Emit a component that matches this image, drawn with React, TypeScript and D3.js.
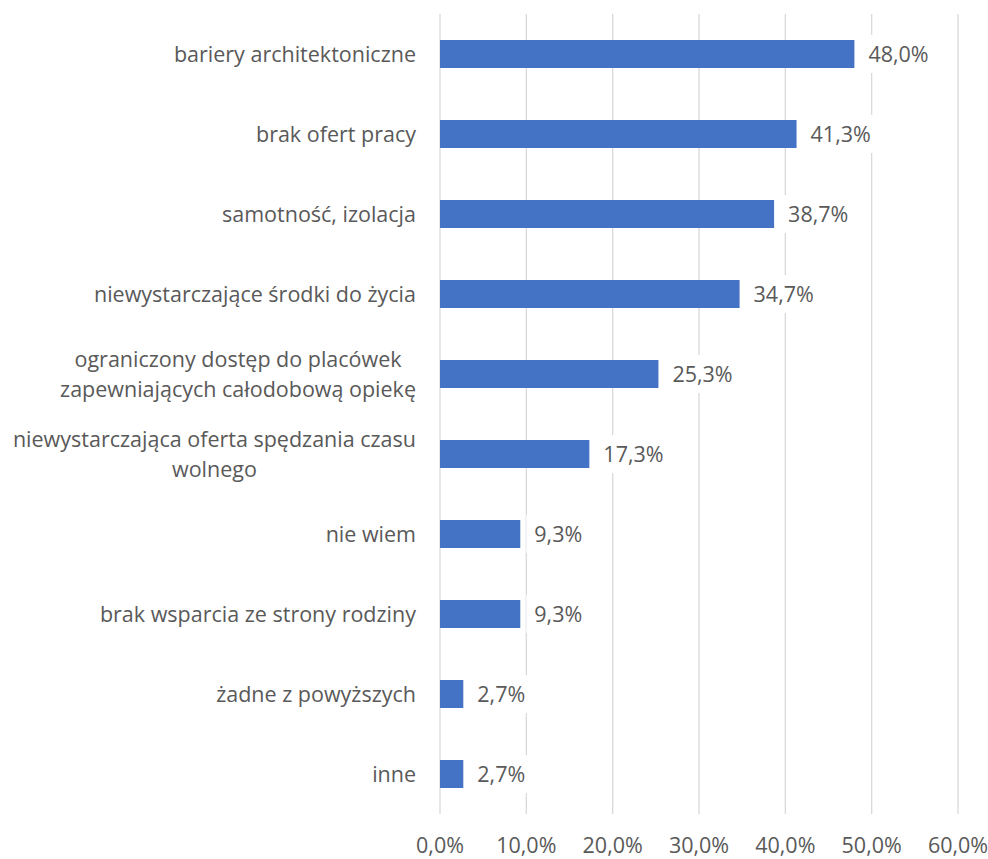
import React, { useEffect, useRef } from "react";
import * as d3 from "d3";

const categories: string[][] = [
  ["bariery architektoniczne"],
  ["brak ofert pracy"],
  ["samotność, izolacja"],
  ["niewystarczające środki do życia"],
  ["ograniczony dostęp do placówek", "zapewniających całodobową opiekę"],
  ["niewystarczająca oferta spędzania czasu", "wolnego"],
  ["nie wiem"],
  ["brak wsparcia ze strony rodziny"],
  ["żadne z powyższych"],
  ["inne"],
];
const values: number[] = [48.0, 41.3, 38.7, 34.7, 25.3, 17.3, 9.3, 9.3, 2.7, 2.7];
const ticks: number[] = [0, 10, 20, 30, 40, 50, 60];

const W = 988;
const H = 859;
const FONT = "'Open Sans', sans-serif";
const FS = 21.5;
const TEXT = "#595959";

export default function App() {
  const ref = useRef<SVGSVGElement>(null);
  useEffect(() => {
    const svg = d3.select(ref.current);
    svg.selectAll("*").remove();
    const x = d3.scaleLinear().domain([0, 60]).range([440, 958]);
    const ids = categories.map((_, i) => String(i));
    const y = d3.scaleBand().domain(ids).range([14, 814]).paddingInner(0.65).paddingOuter(0.325);

    // gridlines
    svg.append("g").selectAll("line").data(ticks).join("line")
      .attr("x1", d => x(d)).attr("x2", d => x(d))
      .attr("y1", 14).attr("y2", 814)
      .attr("stroke", "#D9D9D9").attr("stroke-width", 1.3);

    // bars
    svg.append("g").selectAll("rect").data(values).join("rect")
      .attr("x", x(0))
      .attr("y", (_, i) => y(ids[i])!)
      .attr("width", d => x(d) - x(0))
      .attr("height", y.bandwidth())
      .attr("fill", "#4472C4");

    // data labels
    const lg = svg.append("g");
    values.forEach((v, i) => {
      const cy = y(ids[i])! + y.bandwidth() / 2;
      const tx = x(v) + 14;
      const bg = lg.append("rect");
      const t = lg.append("text")
        .attr("x", tx).attr("y", cy).attr("dy", "0.35em")
        .attr("font-family", FONT).attr("font-size", FS).attr("fill", TEXT)
        .text(v.toFixed(1).replace(".", ",") + "%");
      const w = (t.node() as SVGTextElement).getComputedTextLength();
      bg.attr("x", tx - 8).attr("y", cy - 19).attr("width", w + 16).attr("height", 38).attr("fill", "#fff");
    });

    // category labels
    const cg = svg.append("g");
    categories.forEach((lines, i) => {
      const cy = y(ids[i])! + y.bandwidth() / 2;
      const lh = 30;
      const g = cg.append("g");
      const texts = lines.map((l, j) =>
        g.append("text")
          .attr("y", cy + (j - (lines.length - 1) / 2) * lh)
          .attr("dy", "0.35em")
          .attr("font-family", FONT).attr("font-size", FS).attr("fill", TEXT)
          .attr("text-anchor", "middle")
          .text(l)
      );
      const maxW = d3.max(texts, t => (t.node() as SVGTextElement).getComputedTextLength())!;
      texts.forEach(t => t.attr("x", 416 - maxW / 2));
    });

    // tick labels
    svg.append("g").selectAll("text").data(ticks).join("text")
      .attr("x", d => x(d)).attr("y", 845).attr("dy", "0.35em")
      .attr("text-anchor", "middle")
      .attr("font-family", FONT).attr("font-size", FS).attr("fill", TEXT)
      .text(d => d.toFixed(1).replace(".", ",") + "%");
  }, []);
  return (
    <svg ref={ref} width={W} height={H}
      style={{ position: "absolute", left: 0, top: 0, background: "#fff" }} />
  );
}
